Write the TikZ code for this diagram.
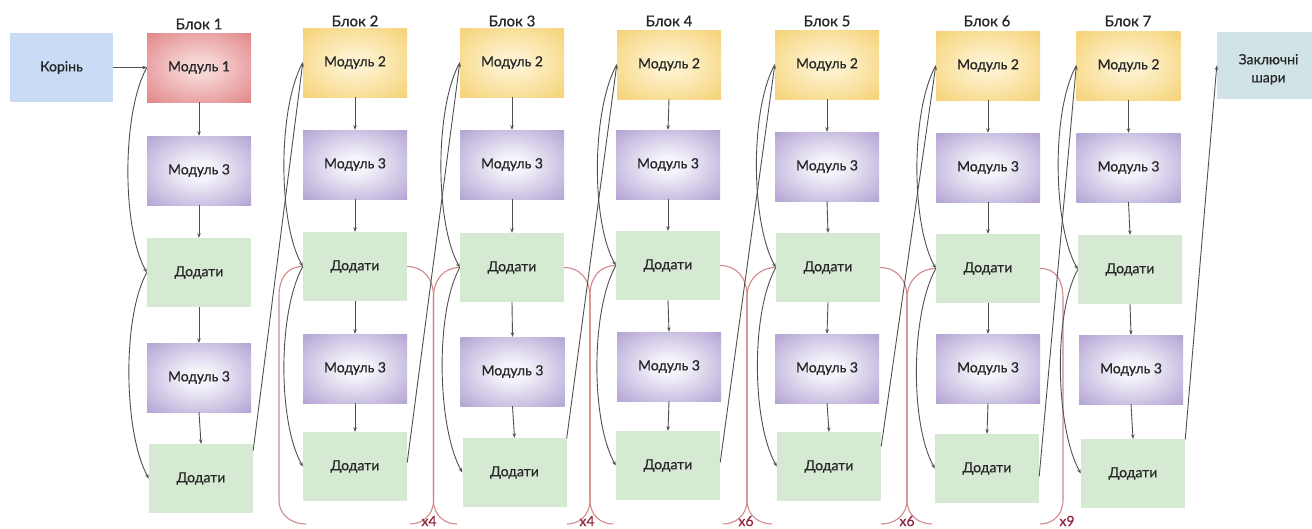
\documentclass[tikz,border=0pt]{standalone}
\usepackage{fontspec}
\setmainfont{Lato}[FakeBold=0.5]
\usetikzlibrary{arrows.meta}

% palette
\definecolor{m1in}{RGB}{247,214,214}
\definecolor{m1out}{RGB}{216,104,107}
\definecolor{m2in}{RGB}{253,242,206}
\definecolor{m2out}{RGB}{243,197,84}
\definecolor{m3in}{RGB}{246,244,251}
\definecolor{m3out}{RGB}{152,132,197}
\definecolor{addgreen}{RGB}{214,233,210}
\definecolor{rootblue}{RGB}{201,219,245}
\definecolor{finalgrey}{RGB}{209,227,230}
\definecolor{linegrey}{RGB}{80,80,80}
\definecolor{bracered}{RGB}{211,136,138}
\definecolor{labelred}{RGB}{142,36,64}

% soft radial glows for the module boxes
\pgfdeclareradialshading{glowred}{\pgfpoint{0bp}{0bp}}{color(0bp)=(m1in); color(6bp)=(m1in); color(47bp)=(m1out); color(50bp)=(m1out)}
\pgfdeclareradialshading{glowyellow}{\pgfpoint{0bp}{0bp}}{color(0bp)=(m2in); color(6bp)=(m2in); color(47bp)=(m2out); color(50bp)=(m2out)}
\pgfdeclareradialshading{glowpurple}{\pgfpoint{0bp}{0bp}}{color(0bp)=(m3in); color(6bp)=(m3in); color(47bp)=(m3out); color(50bp)=(m3out)}

\newcommand{\repbr}[5]{% #1 start anchor, #2 its y, #3 vertical x, #4 bottom end x, #5 side (+1 right, -1 left)
  \draw[repbrace] (#1) .. controls +({16*#5},0) and ({#3},{#2+12}) .. ({#3},{#2+30})
    -- ({#3},500) .. controls ({#3},516) and ({(#3+#4)/2},524) .. ({#4},524);}

\begin{document}
\begin{tikzpicture}[x=1pt,y=-1pt,
  box/.style={minimum width=104pt,minimum height=69pt,inner sep=0pt,
    font=\fontsize{14}{16}\selectfont,text=black!85},
  m1/.style={box,shade,shading=glowred},
  m2/.style={box,shade,shading=glowyellow},
  m3/.style={box,shade,shading=glowpurple},
  addb/.style={box,fill=addgreen},
  rootbox/.style={box,minimum width=103pt,fill=rootblue},
  finalbox/.style={box,minimum width=103pt,minimum height=67pt,fill=finalgrey,align=center,
    font=\fontsize{14}{18}\selectfont},
  title/.style={font=\fontsize{15}{17}\selectfont,text=black!85},
  flow/.style={draw=linegrey,line width=0.9pt,-{Stealth[length=4.5pt,width=3.5pt]}},
  repbrace/.style={draw=bracered,line width=1.1pt},
  replabel/.style={font=\fontsize{14}{16}\selectfont,text=labelred,anchor=base}]

\fill[white] (0,0) rectangle (1312,528);
\useasboundingbox (0,0) rectangle (1312,528);

% input and output
\node[rootbox] (root) at (61.5,67.5) {Корінь};
\node[finalbox] (final) at (1268.5,65.5) {\rule{0pt}{18pt}Заключні\\шари};

% block 1
\node[title] (t1) at (199,24) {Блок 1};
\node[m1]   (b1m1)  at (199,67.5)  {Модуль 1};
\node[m3]   (b1m3a) at (199,170.5) {Модуль 3};
\node[addb] (b1d1)  at (199,272.5) {Додати};
\node[m3]   (b1m3b) at (199,377.5) {Модуль 3};
\node[addb] (b1d2)  at (201,478.5) {Додати};

% block 2
\node[title] (t2) at (355,21) {Блок 2};
\node[m2]   (b2m2)  at (355,62.5)  {Модуль 2};
\node[m3]   (b2m3a) at (355,164.5) {Модуль 3};
\node[addb] (b2d1)  at (355,266.5) {Додати};
\node[m3]   (b2m3b) at (355,368.5) {Модуль 3};
\node[addb] (b2d2)  at (355,466.5) {Додати};

% block 3
\node[title] (t3) at (512,21) {Блок 3};
\node[m2]   (b3m2)  at (512,62.5)  {Модуль 2};
\node[m3]   (b3m3a) at (512,164.5) {Модуль 3};
\node[addb] (b3d1)  at (512,267.5) {Додати};
\node[m3]   (b3m3b) at (512.5,371.5) {Модуль 3};
\node[addb] (b3d2)  at (514.5,472.5) {Додати};

% block 4
\node[title] (t4) at (669,21) {Блок 4};
\node[m2]   (b4m2)  at (669,64.5)  {Модуль 2};
\node[m3]   (b4m3a) at (668,164.5) {Модуль 3};
\node[addb] (b4d1)  at (668,265.5) {Додати};
\node[m3]   (b4m3b) at (669,366.5) {Модуль 3};
\node[addb] (b4d2)  at (668,465.5) {Додати};

% block 5
\node[title] (t5) at (827,21) {Блок 5};
\node[m2]   (b5m2)  at (827,64.5)  {Модуль 2};
\node[m3]   (b5m3a) at (827,166.5) {Модуль 3};
\node[addb] (b5d1)  at (828,267.5) {Додати};
\node[m3]   (b5m3b) at (827,368.5) {Модуль 3};
\node[addb] (b5d2)  at (829,466.5) {Додати};

% block 6
\node[title] (t6) at (987,21) {Блок 6};
\node[m2]   (b6m2)  at (988,65.5)  {Модуль 2};
\node[m3]   (b6m3a) at (988,167.5) {Модуль 3};
\node[addb] (b6d1)  at (988,268.5) {Додати};
\node[m3]   (b6m3b) at (988,368.5) {Модуль 3};
\node[addb] (b6d2)  at (987,468.5) {Додати};

% block 7
\node[title] (t7) at (1128,21) {Блок 7};
\node[m2]   (b7m2)  at (1128.5,65.5)  {Модуль 2};
\node[m3]   (b7m3a) at (1128.5,167.5) {Модуль 3};
\node[addb] (b7d1)  at (1130,269.5) {Додати};
\node[m3]   (b7m3b) at (1131,369.5) {Модуль 3};
\node[addb] (b7d2)  at (1133,473.5) {Додати};

% repeat braces and their counts
\repbr{b2d1.west}{266.5}{279}{306}{-1}
\repbr{b2d1.east}{266.5}{433.5}{410}{1}
\repbr{b3d1.west}{267.5}{433.5}{457}{-1}
\repbr{b3d1.east}{267.5}{590}{567}{1}
\repbr{b4d1.west}{265.5}{590}{613}{-1}
\repbr{b4d1.east}{265.5}{747}{723}{1}
\repbr{b5d1.west}{267.5}{747}{772}{-1}
\repbr{b5d1.east}{267.5}{907}{881}{1}
\repbr{b6d1.west}{268.5}{907}{932}{-1}
\repbr{b6d1.east}{268.5}{1063}{1040}{1}
\node[replabel] (r2) at (429,526) {x4};
\node[replabel] (r3) at (587,526) {x4};
\node[replabel] (r4) at (746,526) {x6};
\node[replabel] (r5) at (907,526) {x6};
\node[replabel] (r6) at (1067,526) {x9};

% stem
\draw[flow] (root.east) -- (b1m1.west);

% main path inside every block
\foreach \b in {1,...,7}{
  \ifnum\b=1 \def\top{b1m1}\else \def\top{b\b m2}\fi
  \draw[flow] (\top.south) -- (b\b m3a.north);
  \draw[flow] (b\b m3a.south) -- (b\b d1.north);
  \draw[flow] (b\b d1.south) -- (b\b m3b.north);
  \draw[flow] (b\b m3b.south) -- (b\b d2.north);
  % residual shortcuts
  \draw[flow] (\top.west) .. controls +(-25,45) and +(-25,-45) .. (b\b d1.west);
  \draw[flow] (b\b d1.west) .. controls +(-25,45) and +(-25,-45) .. (b\b d2.west);
}

% hand-over from each block to the next
\draw[flow] ([yshift=28pt]b1d2.east) -- (b2m2.west);
\draw[flow] ([yshift=4pt]b2d2.east) -- (b3m2.west);
\draw[flow] ([yshift=34pt]b3d2.east) -- (b4m2.west);
\draw[flow] ([yshift=3pt]b4d2.east) -- (b5m2.west);
\draw[flow] ([yshift=20pt]b5d2.east) -- (b6m2.west);
\draw[flow] ([yshift=-8pt]b6d2.east) -- (b7m2.west);
\draw[flow] ([yshift=34pt]b7d2.east) -- (final.west);

\end{tikzpicture}
\end{document}
